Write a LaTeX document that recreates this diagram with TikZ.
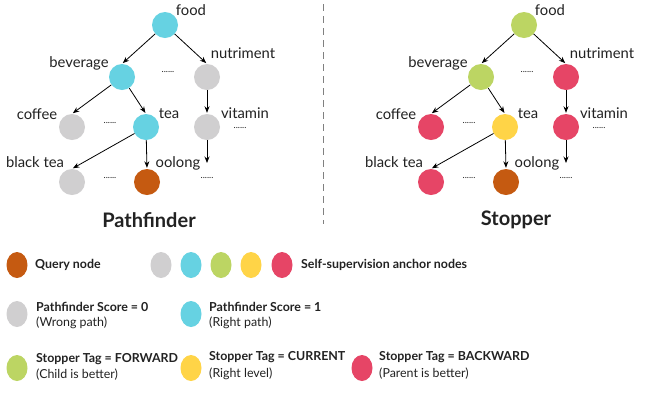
\documentclass[tikz,border=0pt]{standalone}
\usepackage{fontspec}
\setmainfont{Lato}
\usetikzlibrary{arrows.meta,shapes.geometric}
\definecolor{cgray}{HTML}{D0CFD0}
\definecolor{ccyan}{HTML}{66D2E2}
\definecolor{cgreen}{HTML}{BCD563}
\definecolor{cyellow}{HTML}{FFD447}
\definecolor{cred}{HTML}{E64566}
\definecolor{cquery}{HTML}{C55A11}
\definecolor{ctext}{HTML}{222222}
\tikzset{
  tn/.style={circle, minimum size=26pt, inner sep=0pt, fill=#1, draw=none},
  lab/.style={font=\fontsize{14.8}{16}\selectfont, inner sep=0pt, text=ctext},
  dts/.style={font=\fontsize{9}{10}\selectfont, inner sep=0pt, text=ctext},
  arr/.style={-{Stealth[length=6.5pt,width=5pt]}, line width=0.8pt, shorten >=1pt},
  leg/.style={ellipse, minimum width=21pt, minimum height=26pt, inner sep=0pt, fill=#1},
  legb/.style={font=\bfseries\fontsize{12.4}{14}\selectfont, inner sep=0pt, anchor=west, text=ctext},
  legn/.style={font=\fontsize{12.4}{14}\selectfont, inner sep=0pt, anchor=west, text=ctext},
  ttl/.style={font=\bfseries\fontsize{20}{22}\selectfont, inner sep=0pt, text=ctext}
}
\newcommand{\mytree}[2]{%
\begin{scope}[xshift=#2]
\node[tn=\cFood] (#1food) at (165,25) {};
\node[tn=\cBev] (#1bev) at (122,77) {};
\node[tn=\cNut] (#1nut) at (207,77) {};
\node[tn=\cCof] (#1cof) at (72,127) {};
\node[tn=\cTea] (#1tea) at (146,127) {};
\node[tn=\cVit] (#1vit) at (207,127) {};
\node[tn=\cBlk] (#1blk) at (72,182) {};
\node[tn=cquery] (#1ool) at (147,182) {};
\coordinate (#1end) at (207,164);
\node[lab] (#1lfood) at (191,10) {food};
\node[lab] (#1lbev) at (79,63) {beverage};
\node[lab] (#1lnut) at (243,53) {nutriment};
\node[lab] (#1lcof) at (37,114) {coffee};
\node[lab] (#1ltea) at (169,114) {tea};
\node[lab] (#1lvit) at (245,113) {vitamin};
\node[lab] (#1lblk) at (35,162) {black tea};
\node[lab] (#1lool) at (178,163) {oolong};
\node[dts] (#1d1) at (168,72) {......};
\node[dts] (#1d2) at (110,123) {......};
\node[dts] (#1d3) at (240,128) {......};
\node[dts] (#1d4) at (110,178) {......};
\node[dts] (#1d5) at (207,178) {......};
\draw[arr] (#1food) -- (#1bev.north);
\draw[arr] (#1food) -- (#1nut.north);
\draw[arr] (#1bev) -- (#1cof.north);
\draw[arr] (#1bev) -- (#1tea.north);
\draw[arr] (#1nut) -- (#1vit.north);
\draw[arr] (#1tea) -- (#1blk.north);
\draw[arr] (#1tea) -- (#1ool.north);
\draw[arr] (#1vit) -- (#1end);
\end{scope}}
\begin{document}
\begin{tikzpicture}[x=1pt,y=-1pt]
\fill[white] (0,0) rectangle (645,392);
\useasboundingbox (0,0) rectangle (645,392);
% left tree
\def\cFood{ccyan}\def\cBev{ccyan}\def\cNut{cgray}\def\cCof{cgray}
\def\cTea{ccyan}\def\cVit{cgray}\def\cBlk{cgray}
\mytree{L}{0pt}
% right tree
\def\cFood{cgreen}\def\cBev{cgreen}\def\cNut{cred}\def\cCof{cred}
\def\cTea{cyellow}\def\cVit{cred}\def\cBlk{cred}
\mytree{R}{359pt}
\node[ttl] (t1) at (149,220) {Pathfinder};
\node[ttl] (t2) at (516,220) {Stopper};
\coordinate (sepA) at (323,4);
\coordinate (sepB) at (323,224);
\draw[gray, line width=1pt, dash pattern=on 7pt off 5pt] (sepA) -- (sepB);
% legend
\node[leg=cquery] (lq) at (17,265) {};
\node[legb] (lqt) at (35,265) {Query node};
\node[leg=cgray] (la1) at (161,265) {};
\node[leg=ccyan] (la2) at (191,265) {};
\node[leg=cgreen] (la3) at (221,265) {};
\node[leg=cyellow] (la4) at (251,265) {};
\node[leg=cred] (la5) at (282,265) {};
\node[legb] (lat) at (301,265) {Self-supervision anchor nodes};
\node[leg=cgray] (lp0) at (17,314) {};
\node[legb] (lp0a) at (36,307) {Pathfinder Score = 0};
\node[legn] (lp0b) at (36,323) {(Wrong path)};
\node[leg=ccyan] (lp1) at (191,314) {};
\node[legb] (lp1a) at (209,307) {Pathfinder Score = 1};
\node[legn] (lp1b) at (209,323) {(Right path)};
\node[leg=cgreen] (ls1) at (17,368) {};
\node[legb] (ls1a) at (36,359) {Stopper Tag = FORWARD};
\node[legn] (ls1b) at (36,375) {(Child is better)};
\node[leg=cyellow] (ls2) at (191,368) {};
\node[legb] (ls2a) at (209,357) {Stopper Tag = CURRENT};
\node[legn] (ls2b) at (209,374) {(Right level)};
\node[leg=cred] (ls3) at (362,368) {};
\node[legb] (ls3a) at (379,357) {Stopper Tag = BACKWARD};
\node[legn] (ls3b) at (379,374) {(Parent is better)};
\end{tikzpicture}
\end{document}
